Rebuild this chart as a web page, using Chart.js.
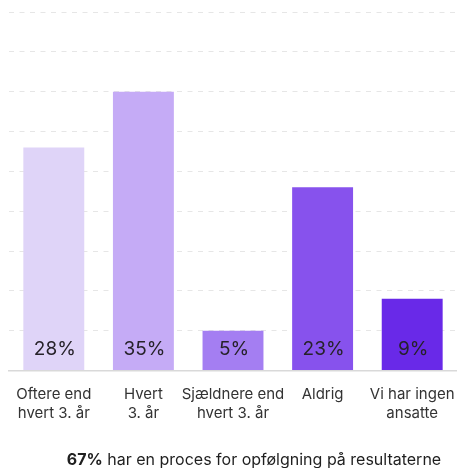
<!DOCTYPE html>
<html>
<head>
<meta charset="utf-8">
<script src="https://cdn.jsdelivr.net/npm/chart.js@4/dist/chart.umd.min.js"></script>
<style>
    html, body { margin: 0; padding: 0; background: #fff; overflow: hidden; }
    #wrap { width: 457px; height: 468px; position: relative; }
</style>
</head>
<body>
<div id="wrap"><canvas id="mainChart"></canvas></div>
<script>
const categories = [
    ['Oftere end', 'hvert 3. år'],
    ['Hvert', '3. år'],
    ['Sjældnere end', 'hvert 3. år'],
    ['Aldrig'],
    ['Vi har ingen', 'ansatte']
];
const shares = [28, 35, 5, 23, 9];
const barColors = ['#dfd4f8', '#c5abf6', '#a47ef2', '#8752ed', '#6929e8'];
const footerBold = '67%';
const footerText = ' har en proces for opfølgning på resultaterne';

const FONT = 'Inter, "Noto Sans", sans-serif';

// percentage labels sitting at the bottom of each bar
const valueLabels = {
    id: 'valueLabels',
    afterDatasetsDraw(chart) {
        const ctx = chart.ctx;
        const meta = chart.getDatasetMeta(0);
        const yScale = chart.scales.y;
        ctx.save();
        ctx.font = '19px ' + FONT;
        ctx.fillStyle = '#262229';
        ctx.textAlign = 'center';
        ctx.textBaseline = 'middle';
        meta.data.forEach((bar, i) => {
            ctx.fillText(shares[i] + '%', bar.x + 1, yScale.getPixelForValue(0) - 21);
        });
        ctx.restore();
    }
};

// summary line under the axis labels
const footer = {
    id: 'footer',
    afterDraw(chart) {
        const ctx = chart.ctx;
        ctx.save();
        ctx.textBaseline = 'alphabetic';
        ctx.fillStyle = '#1f1f1f';
        ctx.font = 'bold 16px ' + FONT;
        const w1 = ctx.measureText(footerBold).width;
        ctx.font = '16px ' + FONT;
        const w2 = ctx.measureText(footerText).width;
        let x = 254 - (w1 + w2) / 2;
        const y = 465;
        ctx.font = 'bold 16px ' + FONT;
        ctx.fillText(footerBold, x, y);
        ctx.font = '16px ' + FONT;
        ctx.fillText(footerText, x + w1, y);
        ctx.restore();
    }
};

const ctx = document.getElementById('mainChart').getContext('2d');
const mainChart = new Chart(ctx, {
    type: 'bar',
    data: {
        labels: categories,
        datasets: [{
            data: shares,
            backgroundColor: barColors,
            borderWidth: 0,
            categoryPercentage: 1,
            barPercentage: 0.68
        }]
    },
    options: {
        responsive: true,
        maintainAspectRatio: false,
        animation: false,
        layout: {
            padding: { top: 12, left: 9, right: 0, bottom: 30 }
        },
        plugins: {
            legend: { display: false },
            tooltip: { enabled: false }
        },
        scales: {
            y: {
                min: 0,
                max: 45,
                ticks: { display: false, stepSize: 5 },
                grid: {
                    color: '#e6e6e6',
                    lineWidth: 1,
                    drawTicks: false
                },
                border: { display: false, dash: [5, 5.5] },
                afterFit(scale) { scale.width = 0; }
            },
            x: {
                grid: { display: false, drawTicks: false },
                border: { display: true, color: '#d9d9d9', width: 1.5 },
                ticks: {
                    color: '#333333',
                    padding: 15,
                    maxRotation: 0,
                    autoSkip: false,
                    font: { family: FONT, size: 15, lineHeight: 1.25 }
                },
                afterFit(scale) {
                    scale.paddingLeft = 0;
                    scale.paddingRight = 0;
                }
            }
        }
    },
    plugins: [valueLabels, footer]
});
</script>
</body>
</html>
